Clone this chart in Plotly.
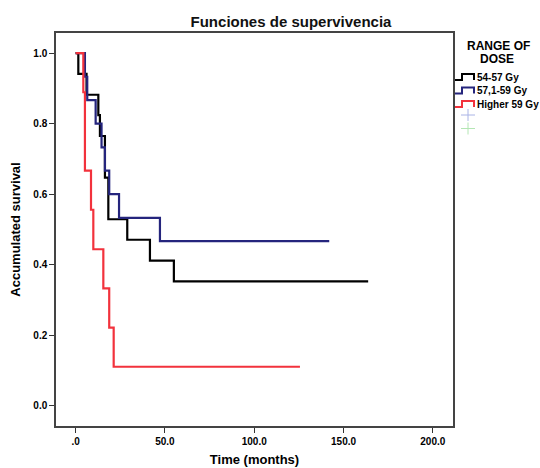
import plotly.graph_objects as go

# Kaplan-Meier step data (time in months, accumulated survival)
black_t = [0, 1.5, 6.1, 12.7, 13.6, 16.4, 18.3, 28.9, 41.6, 55.0, 163.8]
black_s = [1.0, 0.941, 0.882, 0.824, 0.765, 0.647, 0.529, 0.471, 0.412, 0.353, 0.353]

blue_t = [0, 5.2, 6.5, 11.2, 14.5, 16.4, 18.8, 24.3, 47.2, 142.0]
blue_s = [1.0, 0.933, 0.867, 0.800, 0.733, 0.667, 0.600, 0.533, 0.467, 0.467]

red_t = [0, 4.3, 5.2, 8.6, 9.9, 15.5, 18.8, 21.3, 125.6]
red_s = [1.0, 0.889, 0.667, 0.556, 0.444, 0.333, 0.222, 0.111, 0.111]

series_names = ["54-57 Gy", "57,1-59 Gy", "Higher 59 Gy"]
series_colors = ["#000000", "#25257d", "#f2323c"]
censor_colors = ["#aab4e6", "#b4e6b4"]

x_ticks = [0, 50, 100, 150, 200]
x_ticktext = [".0", "50.0", "100.0", "150.0", "200.0"]
y_ticks = [0.0, 0.2, 0.4, 0.6, 0.8, 1.0]
y_ticktext = ["0.0", "0.2", "0.4", "0.6", "0.8", "1.0"]

FONT = "Liberation Sans, Arial, sans-serif"
W, H = 540, 468
ML, MR, MT, MB = 56, 87, 33, 42
PW, PH = W - ML - MR, H - MT - MB


def px(x):
    return (x - ML) / PW


def py(y):
    return (H - MB - y) / PH


fig = go.Figure()
for t, s, name, col in zip([black_t, blue_t, red_t], [black_s, blue_s, red_s],
                           series_names, series_colors):
    fig.add_trace(go.Scatter(x=t, y=s, mode="lines", line=dict(shape="hv", color=col, width=2.2),
                             name=name, showlegend=False))

shapes = []
annotations = []
# custom legend
annotations.append(dict(text="<b>RANGE OF</b>", x=px(498), y=py(46), xref="paper", yref="paper",
                        showarrow=False, xanchor="center", yanchor="middle",
                        font=dict(size=12, family=FONT, color="#000")))
annotations.append(dict(text="<b>DOSE</b>", x=px(497), y=py(59), xref="paper", yref="paper",
                        showarrow=False, xanchor="center", yanchor="middle",
                        font=dict(size=12, family=FONT, color="#000")))
for i, (name, col) in enumerate(zip(series_names, series_colors)):
    yc = 77 + i * 13.5
    path = "M {x0},{y0} L {x1},{y0} L {x1},{y1} L {x2},{y1} L {x2},{y0}".format(
        x0=px(455), x1=px(462), x2=px(474), y0=py(yc + 3), y1=py(yc - 3))
    shapes.append(dict(type="path", path=path, xref="paper", yref="paper",
                       line=dict(color=col, width=2)))
    annotations.append(dict(text="<b>" + name + "</b>", x=px(475), y=py(yc), xref="paper",
                            yref="paper", showarrow=False, xanchor="left", yanchor="middle",
                            font=dict(size=10, family=FONT, color="#000")))
for i, col in enumerate(censor_colors):
    yc = 115 + i * 13.5
    shapes.append(dict(type="line", x0=px(461), x1=px(475), y0=py(yc), y1=py(yc),
                       xref="paper", yref="paper", line=dict(color=col, width=1)))
    shapes.append(dict(type="line", x0=px(468), x1=px(468), y0=py(yc - 6), y1=py(yc + 6),
                       xref="paper", yref="paper", line=dict(color=col, width=1)))

fig.update_layout(
    width=W, height=H,
    margin=dict(l=ML, r=MR, t=MT, b=MB, autoexpand=False),
    paper_bgcolor="white", plot_bgcolor="white",
    font=dict(family=FONT, color="#000"),
    title=dict(text="<b>Funciones de supervivencia</b>", x=291 / W, xanchor="center",
               y=1 - 22 / H, yanchor="middle",
               font=dict(size=15, family=FONT, color="#111")),
    showlegend=False,
    shapes=shapes,
    annotations=annotations,
)
fig.update_xaxes(range=[-11, 211.3], tickvals=x_ticks, ticktext=x_ticktext,
                 ticks="outside", ticklen=5, tickcolor="#333",
                 showline=True, linecolor="#444", linewidth=1.5, mirror=True,
                 showgrid=False, zeroline=False,
                 tickfont=dict(size=10, weight="bold"),
                 title=dict(text="<b>Time (months)</b>", font=dict(size=13), standoff=9))
fig.update_yaxes(range=[-0.057, 1.057], tickvals=y_ticks, ticktext=y_ticktext,
                 ticks="outside", ticklen=5, tickcolor="#333",
                 showline=True, linecolor="#444", linewidth=1.5, mirror=True,
                 showgrid=False, zeroline=False,
                 tickfont=dict(size=10, weight="bold"),
                 title=dict(text="<b>Accumulated survival</b>", font=dict(size=13), standoff=10))

fig.write_html("out.html")
